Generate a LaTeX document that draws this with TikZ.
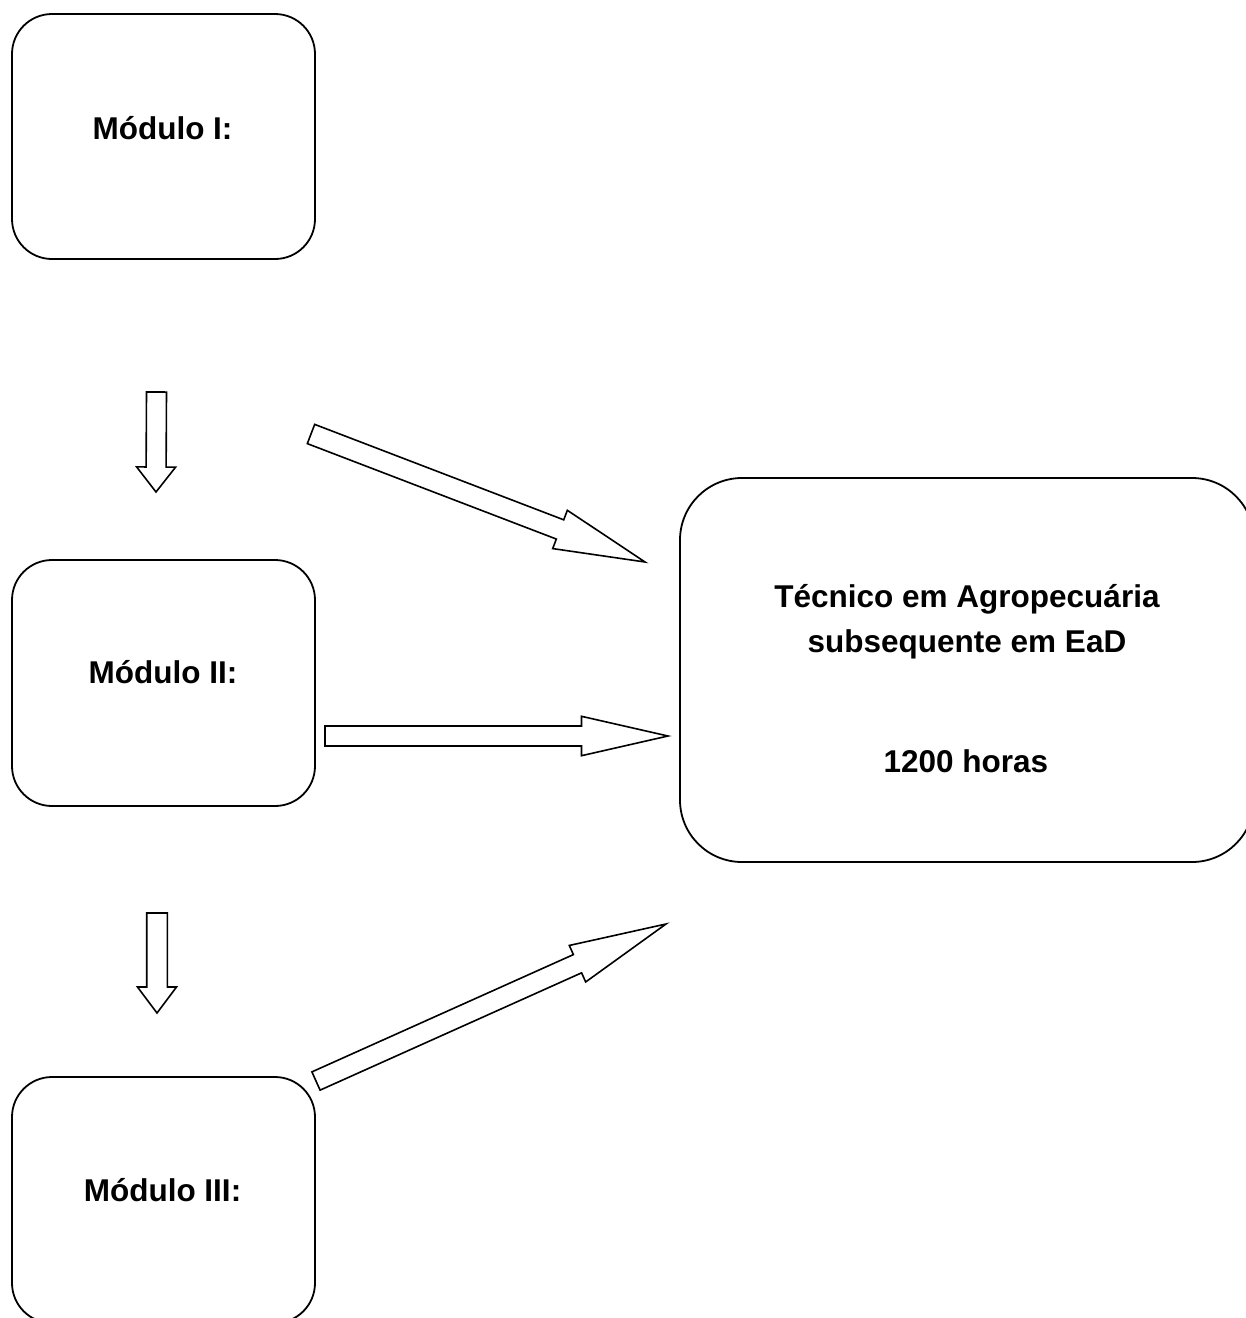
\documentclass[tikz,border=0pt]{standalone}
\usepackage{fontspec}
\setmainfont{Liberation Sans}
\usetikzlibrary{calc}
\tikzset{
  box/.style={draw=black, line width=1.8pt, rounded corners=40pt, fill=white, inner sep=0pt},
  bigbox/.style={draw=black, line width=1.8pt, rounded corners=62pt, fill=white, inner sep=0pt},
  lbl/.style={font=\fontsize{31.5}{38}\selectfont\bfseries, anchor=base, inner sep=0pt},
  blk/.style={draw=black, line width=1.6pt, fill=white, line join=miter},
}
% #1 name, #2 tail, #3 tip, #4 shaft half width, #5 head half width, #6 head length
\newcommand{\blockarrow}[6]{%
  \coordinate (#1-h) at ($(#3)!#6!(#2)$);
  \draw[blk] ($(#2)!#4!-90:(#3)$) -- ($(#1-h)!#4!-90:(#3)$) -- ($(#1-h)!#5!-90:(#3)$)
    -- (#3) -- ($(#1-h)!#5!90:(#3)$) -- ($(#1-h)!#4!90:(#3)$) -- ($(#2)!#4!90:(#3)$) -- cycle;
}
\begin{document}
\begin{tikzpicture}[x=1pt, y=-1pt]
\clip (0,0) rectangle (1246,1318);
\fill[white] (0,0) rectangle (1246,1318);

% boxes
\node[box, minimum width=303pt, minimum height=245pt] (m1) at (163.5,136.5) {};
\node[box, minimum width=303pt, minimum height=246pt] (m2) at (163.5,683) {};
\node[box, minimum width=303pt, minimum height=246pt] (m3) at (163.5,1200) {};
\node[bigbox, minimum width=574pt, minimum height=384pt] (big) at (967,670) {};

% texts
\node[lbl] (t1) at (162.5,139.5) {Módulo I:};
\node[lbl] (t2) at (163,683) {Módulo II:};
\node[lbl] (t3) at (162.5,1201) {Módulo III:};
\node[lbl] (t4) at (967,607) {Técnico em Agropecuária};
\node[lbl] (t5) at (967,652) {subsequente em EaD};
\node[lbl] (t6) at (966,772) {1200 horas};

% block arrows
\coordinate (a1t) at (156.5,392); \coordinate (a1h) at (156,492);
\coordinate (a2t) at (311,434);   \coordinate (a2h) at (645,562);
\coordinate (a3t) at (325,736);   \coordinate (a3h) at (668,736);
\coordinate (a4t) at (157,913);   \coordinate (a4h) at (157,1013);
\coordinate (a5t) at (316,1081);  \coordinate (a5h) at (666,924);

\blockarrow{A1}{a1t}{a1h}{10pt}{19.5pt}{25pt}
\blockarrow{A2}{a2t}{a2h}{10.3pt}{20.5pt}{91pt}
\blockarrow{A3}{a3t}{a3h}{10pt}{19.7pt}{86.5pt}
\blockarrow{A4}{a4t}{a4h}{10.3pt}{19.5pt}{26pt}
\blockarrow{A5}{a5t}{a5h}{10pt}{20pt}{97pt}
\end{tikzpicture}
\end{document}
